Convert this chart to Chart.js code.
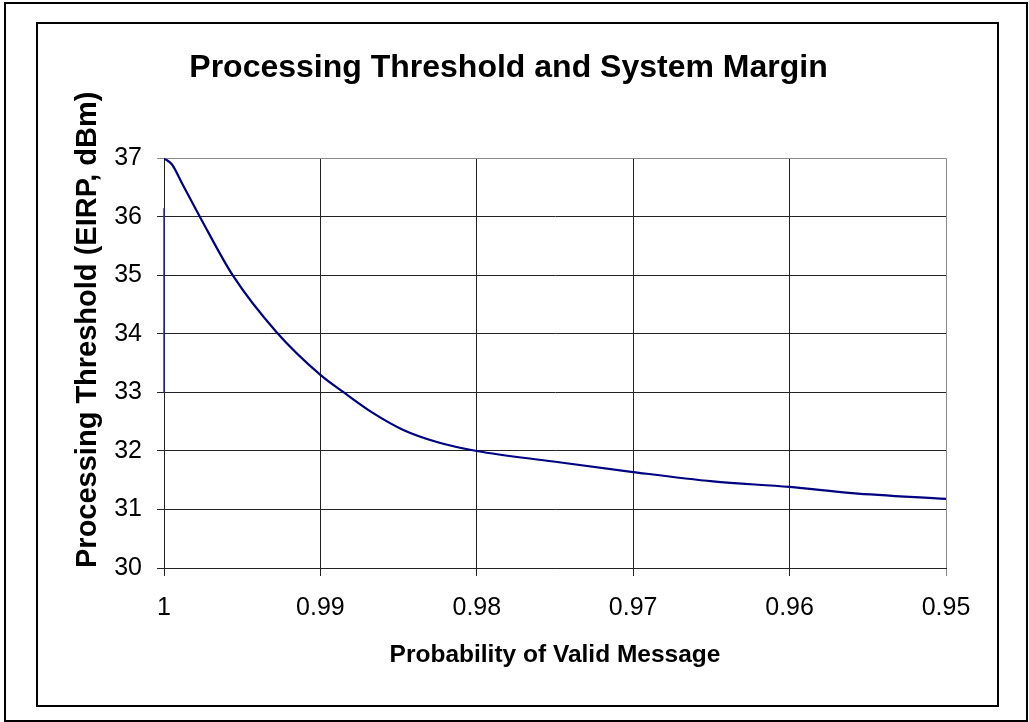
<!DOCTYPE html>
<html>
<head>
<meta charset="utf-8">
<title>Processing Threshold and System Margin</title>
<script src="https://cdn.jsdelivr.net/npm/chart.js@4.4.1/dist/chart.umd.min.js"></script>
<style>
  html, body { margin: 0; padding: 0; background: #fff; }
  canvas { display: block; }
</style>
</head>
<body>
<canvas id="chart" width="1029" height="722"></canvas>
<script>
// probability of valid message (x) and processing threshold in dBm (y)
var probValid = [1, 0.9995, 0.9988, 0.9977, 0.9956, 0.9928, 0.99, 0.9885, 0.9867, 0.9847, 0.9825, 0.98, 0.9751, 0.97, 0.9649, 0.96, 0.956, 0.95];
var threshold = [37.0, 36.9, 36.55, 36.0, 35.0, 34.03, 33.3, 33.0, 32.66, 32.36, 32.15, 32.0, 31.82, 31.64, 31.48, 31.385, 31.28, 31.18];

// the short vertical stroke sitting on the y axis at P = 1
var edgeX = [1, 1];
var edgeY = [33.0, 36.15];

var xTicks = [1, 0.99, 0.98, 0.97, 0.96, 0.95];
var yTicks = [30, 31, 32, 33, 34, 35, 36, 37];

var FONT = 'Liberation Sans, Arial, sans-serif';

var toPoints = function (xs, ys) {
    return xs.map(function (x, i) { return {x: x, y: ys[i]}; });
};

// white page + the two black frames round the chart
var framePlugin = {
    id: 'frames',
    beforeDraw: function (chart) {
        var c = chart.ctx;
        c.save();
        c.fillStyle = '#fff';
        c.fillRect(0, 0, chart.width, chart.height);
        c.strokeStyle = '#000';
        c.lineWidth = 2;
        c.strokeRect(5, 3, 1022, 718);
        c.strokeRect(37, 23, 961, 683);
        c.restore();
    }
};

var ctx = document.getElementById('chart').getContext('2d');
new Chart(ctx, {
    type: 'line',
    data: {
        datasets: [
            {
                label: 'Processing threshold',
                data: toPoints(probValid, threshold),
                borderColor: '#000080',
                borderWidth: 2.2,
                pointRadius: 0,
                cubicInterpolationMode: 'monotone',
                fill: false
            },
            {
                label: 'edge',
                data: toPoints(edgeX, edgeY),
                borderColor: '#2222c8',
                borderWidth: 1.5,
                pointRadius: 0,
                clip: false,
                fill: false
            }
        ]
    },
    options: {
        responsive: false,
        animation: false,
        layout: {
            padding: {top: 40, left: 71, right: 83, bottom: 34}
        },
        plugins: {
            legend: {display: false},
            tooltip: {enabled: false},
            title: {
                display: true,
                text: 'Processing Threshold and System Margin',
                color: '#000',
                font: {family: FONT, size: 32, weight: 'bold'},
                padding: {top: 9, bottom: 71}
            }
        },
        scales: {
            x: {
                type: 'linear',
                reverse: true,
                min: 0.95,
                max: 1,
                afterBuildTicks: function (axis) {
                    axis.ticks = xTicks.map(function (v) { return {value: v}; });
                },
                afterFit: function (axis) { axis.height = 120; },
                ticks: {
                    color: '#000',
                    padding: 17,
                    font: {family: FONT, size: 25},
                    callback: function (v) { return String(+v.toFixed(2)); }
                },
                grid: {
                    color: function (c) { return c.tick && c.tick.value === 0.95 ? '#8a8a8a' : '#222'; },
                    lineWidth: 1,
                    tickLength: 8
                },
                border: {color: '#222', width: 1},
                title: {
                    display: true,
                    text: 'Probability of Valid Message',
                    color: '#000',
                    font: {family: FONT, size: 24.5, weight: 'bold'},
                    padding: {top: 0, bottom: 18}
                }
            },
            y: {
                min: 30,
                max: 37,
                afterBuildTicks: function (axis) {
                    axis.ticks = yTicks.map(function (v) { return {value: v}; });
                },
                afterFit: function (axis) { axis.width = 93; },
                ticks: {
                    color: '#000',
                    padding: 15,
                    font: {family: FONT, size: 25}
                },
                grid: {
                    color: function (c) { return c.tick && c.tick.value === 37 ? '#8a8a8a' : '#222'; },
                    lineWidth: 1,
                    tickLength: 7
                },
                border: {color: '#222', width: 1},
                title: {
                    display: true,
                    align: 'start',
                    text: 'Processing Threshold (EIRP, dBm)',
                    color: '#000',
                    font: {family: FONT, size: 29, weight: 'bold'},
                    padding: {top: 0, bottom: 0}
                }
            }
        }
    },
    plugins: [framePlugin]
});
</script>
</body>
</html>
